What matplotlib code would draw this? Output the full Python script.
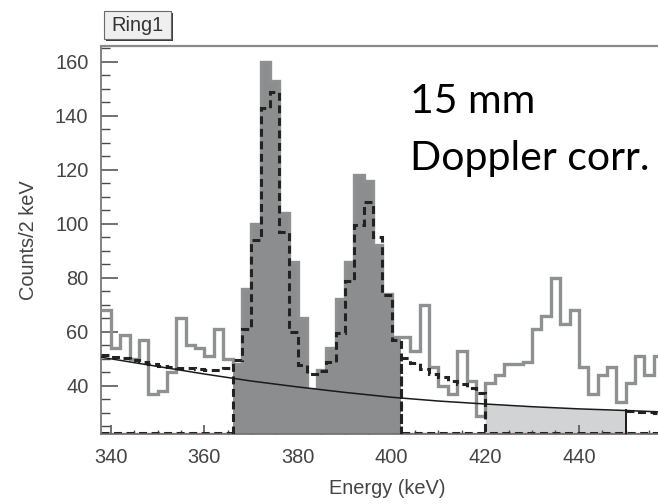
import numpy as np
import matplotlib
matplotlib.use("Agg")
import matplotlib.pyplot as plt
from matplotlib.patches import Rectangle
from matplotlib.ticker import MultipleLocator

# ---- spectrum data (2 keV bins) ----
bin_lo = 338
bin_width = 2
counts = [68, 54, 59, 50, 57, 37, 38, 45, 65, 55, 54, 51, 61, 50,
          48, 76, 100, 160, 153, 104, 86, 65, 39, 46, 54, 72, 86, 118, 116, 92, 74, 58,
          58, 53, 70, 47, 40, 37, 53, 42, 29, 41, 44, 48, 48, 49, 61, 66, 80, 63, 68,
          47, 37, 44, 47, 34, 41, 51, 44, 51]

# total fit, drawn piecewise per region
fit_a_start = 338
fit_a = [51.5, 50.8, 50.2, 49.6, 49.0, 48.0, 47.5, 47.1, 46.8, 46.5, 46.2, 46.0, 46.0, 46.5]
fit_b_start = 366
fit_b = [49.6, 61, 94, 142.7, 148.8, 97, 60, 47.8, 44.3, 45.7, 49, 59.5, 79, 99.5,
         108.1, 95.2, 73.6, 57]
fit_c_start = 402
fit_c = [50.2, 48.4, 46.4, 44.5, 43.2, 42.0, 40.6, 39.2, 37.5]
fit_d_start = 450
fit_d = [30.8, 30.5, 30.3, 30.1]

# smooth background curve
bg_energy = [338, 350, 360, 370, 380, 390, 400, 410, 420, 430, 440, 450, 457]
bg_counts = [50.6, 47.2, 44.4, 41.8, 39.6, 37.6, 35.8, 34.4, 33.3, 32.3, 31.5, 30.9, 30.4]

# gates
peak_gate = (366, 402)
bg_gate = (420, 450)

xlim = (337.9, 456.9)
ylim = (22.2, 165.8)

counts = np.array(counts, dtype=float)
edges = bin_lo + bin_width * np.arange(len(counts) + 1)

def region_edges(start, vals):
    return start + bin_width * np.arange(len(vals) + 1)

plt.rcParams['font.family'] = ['Liberation Sans', 'DejaVu Sans']

W, H = 658, 504
fig = plt.figure(figsize=(W / 100, H / 100), dpi=100)
ax = fig.add_axes([101 / W, 70 / H, (W - 101) / W, (434 - 46) / H])

data_col = '#8e9091'
fill_col = '#8b8d8e'
light_col = '#d2d3d4'
dash_style = (0, (2.6, 1.5))
fit_col = '#222222'

# light background-gate fill under the curve
bx = np.array(bg_energy, dtype=float)
by = np.array(bg_counts, dtype=float)
mask_x = np.linspace(bg_gate[0], bg_gate[1], 60)
ax.fill_between(mask_x, ylim[0], np.interp(mask_x, bx, by), color=light_col,
                lw=0, zorder=1)

# zero-level lines along the frame bottom
ax.axhline(ylim[0] + 0.25, color='#e07a6a', lw=1.0, zorder=1.5)
ax.axhline(ylim[0] + 0.35, color=fit_col, lw=2.2, ls=dash_style, zorder=1.6)

# filled peak gate
sel = (edges[:-1] >= peak_gate[0]) & (edges[:-1] < peak_gate[1])
pk_edges = np.append(edges[:-1][sel], edges[1:][sel][-1])
ax.stairs(counts[sel], pk_edges, baseline=ylim[0], fill=True, color=fill_col,
          lw=0, zorder=2)

# data histogram outline
ax.stairs(counts, edges, baseline=None, color=data_col, lw=2.4, zorder=3)

# total fit pieces (dashed)
ax.stairs(fit_a, region_edges(fit_a_start, fit_a), baseline=None, color=fit_col,
          lw=2.2, ls=dash_style, zorder=4)
for start, vals in [(fit_b_start, fit_b), (fit_c_start, fit_c)]:
    ax.stairs(vals, region_edges(start, vals), baseline=ylim[0], color=fit_col,
              lw=2.2, ls=dash_style, zorder=4)
ax.stairs(fit_d, region_edges(fit_d_start, fit_d), baseline=None, color=fit_col,
          lw=2.2, ls=dash_style, zorder=4)

# background curve and gate closing line
ax.plot(bx, by, color='#1a1a1a', lw=1.1, zorder=5)
ax.plot([bg_gate[1], bg_gate[1]], [ylim[0], np.interp(bg_gate[1], bx, by)],
        color='#1a1a1a', lw=1.4, zorder=5)

ax.set_xlim(*xlim)
ax.set_ylim(*ylim)

# axes styling
spine_col = '#6e6e6e'
for s in ['left', 'bottom']:
    ax.spines[s].set_color(spine_col)
    ax.spines[s].set_linewidth(1.2)
ax.spines['top'].set_color('#8a8a8a')
ax.spines['top'].set_linewidth(1.6)
ax.spines['right'].set_visible(False)

ax.xaxis.set_major_locator(MultipleLocator(20))
ax.xaxis.set_minor_locator(MultipleLocator(5))
ax.yaxis.set_major_locator(MultipleLocator(20))
ax.yaxis.set_minor_locator(MultipleLocator(5))
ax.tick_params(axis='both', which='both', direction='in', colors='#4a4a4a',
               labelcolor='#444444', labelsize=14.4, top=False, right=False)
ax.tick_params(axis='y', which='major', length=12, width=1.1, pad=9)
ax.tick_params(axis='y', which='minor', length=6.5, width=1.0)
ax.tick_params(axis='x', which='major', length=6.5, width=1.1, pad=10)
ax.tick_params(axis='x', which='minor', length=3.2, width=1.0)

fig.text(387 / W, 1 - 489 / H, 'Energy (keV)', ha='center', va='center',
         fontsize=14.4, color='#444444')
fig.text(28 / W, 1 - 240 / H, 'Counts/2 keV', ha='center', va='center',
         rotation=90, fontsize=14.4, color='#444444')

# title box
fig.add_artist(Rectangle((106 / W, 1 - 41 / H), 67 / W, 28 / H,
                         transform=fig.transFigure, fc='#3c3c3c', ec='none'))
fig.add_artist(Rectangle((104 / W, 1 - 39 / H), 67 / W, 28 / H,
                         transform=fig.transFigure, fc='#efefef', ec='#6a6a6a', lw=0.8))
fig.text(137.5 / W, 1 - 31 / H, 'Ring1', ha='center', va='baseline',
         fontsize=14.4, color='#333333')

# annotation
fig.text(410 / W, 1 - 113 / H, '15 mm', ha='left', va='baseline',
         fontsize=29.5, color='black', family=['Lato', 'DejaVu Sans'])
fig.text(410 / W, 1 - 170 / H, 'Doppler corr.', ha='left', va='baseline',
         fontsize=29.5, color='black', family=['Lato', 'DejaVu Sans'])

fig.savefig('out.png', dpi=100)
